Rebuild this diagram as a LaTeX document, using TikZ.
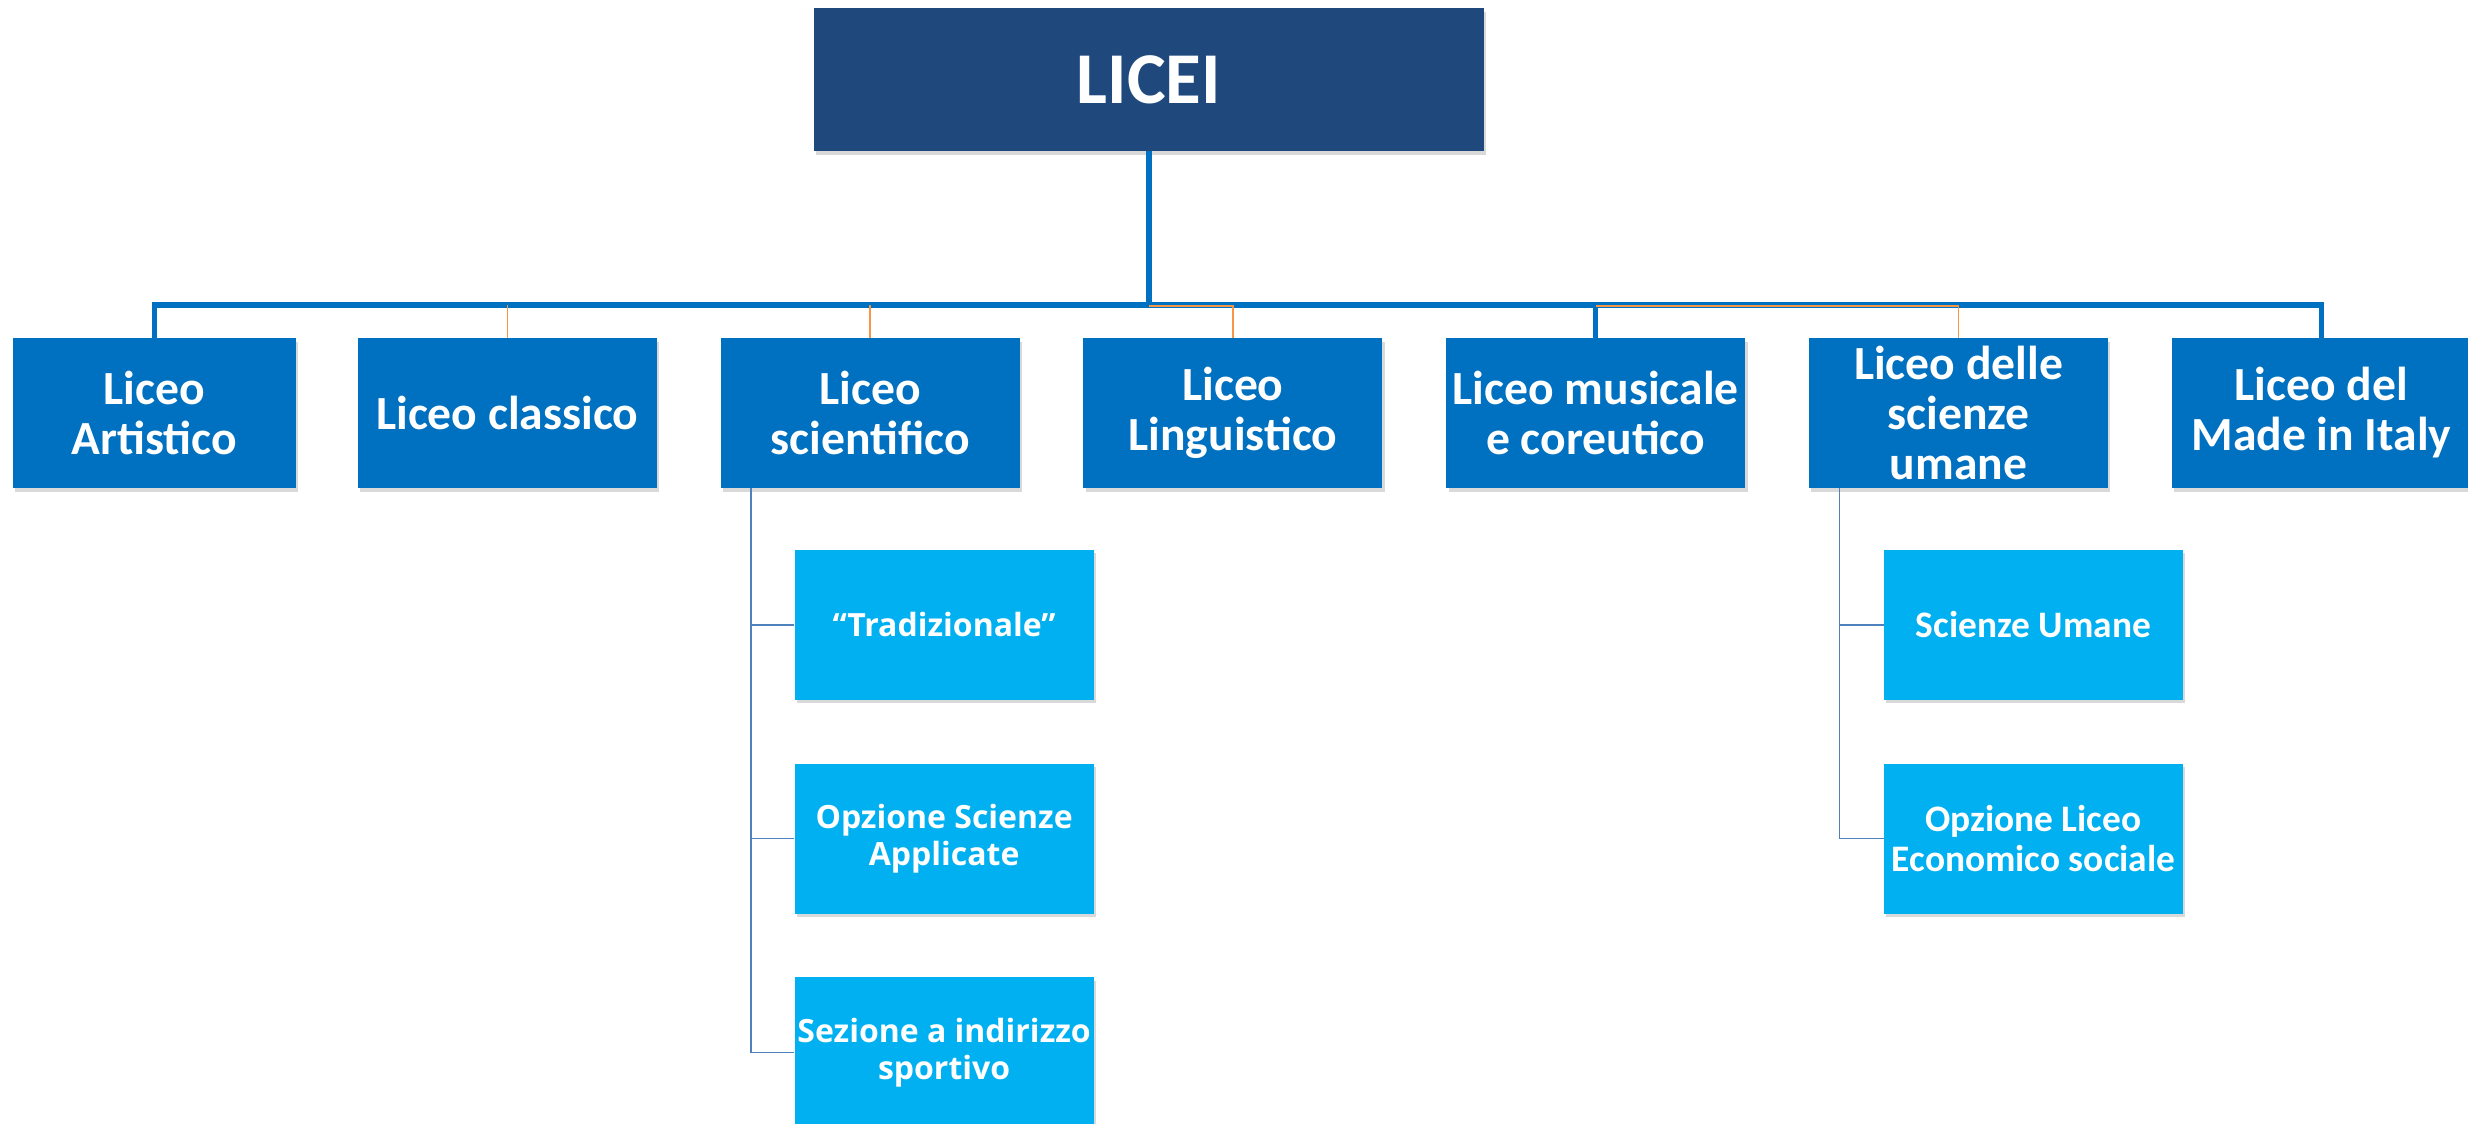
\documentclass[tikz,border=0pt]{standalone}
\usepackage{fontspec}
\setmainfont{Carlito}
\newfontfamily\opensans{Open Sans}
\usetikzlibrary{positioning,shadows}
\definecolor{liceiblue}{HTML}{1F497D}
\definecolor{boxblue}{HTML}{0070C0}
\definecolor{subblue}{HTML}{00B0F0}
\definecolor{linkorange}{HTML}{F79646}
\definecolor{twiggrey}{HTML}{4F81BD}
\tikzstyle{block} = [rectangle, fill=boxblue, text=white, align=center, inner sep=0pt, minimum width=149.5pt, minimum height=75pt, font=\bfseries\fontsize{23.8}{25}\selectfont, drop shadow={shadow xshift=1.2pt, shadow yshift=-1.8pt, opacity=0.3}]
\tikzstyle{subblock} = [block, fill=subblue, font=\opensans\bfseries\fontsize{16}{18.5}\selectfont]
\tikzstyle{subblockc} = [block, fill=subblue, font=\bfseries\fontsize{18.7}{20}\selectfont]
\tikzstyle{bus} = [draw=boxblue, line width=2.6pt]
\tikzstyle{ostub} = [draw=linkorange, line width=0.8pt]
\tikzstyle{twig} = [draw=twiggrey, line width=0.8pt]

\begin{document}
\begin{tikzpicture}[x=0.5pt, y=-0.5pt, node distance=31.5pt]
	\useasboundingbox (0,0) rectangle (2468,1124);

	% ROOT
	\node[block, fill=liceiblue, minimum width=335pt, minimum height=71.5pt, font=\bfseries\fontsize{36.5}{40}\selectfont] (licei) at (1149,79.5) {LICEI};

	% FIRST ROW
	\node[block, minimum width=141.5pt] (artistico) at (154.5,413) {Liceo\\Artistico};
	\node[block, right=30.5pt of artistico] (classico) {Liceo classico};
	\node[block, right=of classico] (scientifico) {Liceo\\scientifico};
	\node[block, right=of scientifico] (linguistico) {Liceo\\Linguistico};
	\node[block, right=of linguistico] (musicale) {Liceo musicale\\e coreutico};
	\node[block, right=of musicale] (umane) {Liceo delle\\scienze\\umane};
	\node[block, right=of umane] (italy) {Liceo del\\Made in Italy};

	% SCIENTIFICO
	\node[subblock, below=30.5pt of scientifico, xshift=37pt] (trad) {“Tradizionale”};
	\node[subblock, below=of trad] (applicate) {Opzione Scienze\\Applicate};
	\node[subblock, below=of applicate] (sportivo) {Sezione a indirizzo\\sportivo};

	% SCIENZE UMANE
	\node[subblockc, below=30.5pt of umane, xshift=37.5pt] (scumane) {Scienze Umane};
	\node[subblockc, below=of scumane] (economico) {Opzione Liceo\\Economico sociale};

	% CONNECTORS
	\coordinate (busline) at (0,305);
	\draw[bus] (licei.south) -- (licei.south |- busline);
	\draw[bus, line join=miter] (artistico.north) -- (artistico.north |- busline) -- (italy.north |- busline) -- (italy.north);
	\draw[bus] (musicale.north |- busline) -- (musicale.north);

	\draw[ostub] (classico.north |- busline) -- (classico.north);
	\draw[ostub] (scientifico.north |- busline) -- (scientifico.north);
	\draw[ostub] ([yshift=-0.6pt]licei.south |- busline) -| (linguistico.north);
	\draw[ostub] ([yshift=-0.6pt]musicale.north |- busline) -| (umane.north);

	\coordinate (scitrunk) at ([xshift=15.5pt]scientifico.south west);
	\draw[twig] (scitrunk) |- (trad.west);
	\draw[twig] (scitrunk) |- (applicate.west);
	\draw[twig] (scitrunk) |- (sportivo.west);

	\coordinate (umtrunk) at ([xshift=15.5pt]umane.south west);
	\draw[twig] (umtrunk) |- (scumane.west);
	\draw[twig] (umtrunk) |- (economico.west);
\end{tikzpicture}
\end{document}
